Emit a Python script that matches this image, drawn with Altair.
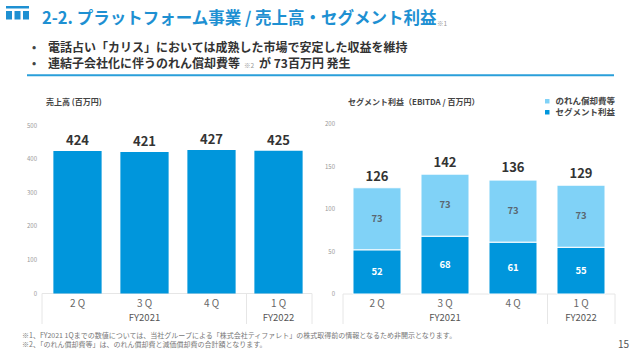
import altair as alt
import pandas as pd

# ---- data ----
quarters = ["2Q", "3Q", "4Q", "1Q"]
quarter_labels = ["2 Q", "3 Q", "4 Q", "1 Q"]
fiscal_years = ["FY2021", "FY2022"]
fiscal_year_anchor = ["3Q", "1Q"]
sales = [424, 421, 427, 425]
segment_profit = [52, 68, 61, 55]
goodwill = [73, 73, 73, 73]
segment_total = [126, 142, 136, 129]
sales_ticks = [0, 100, 200, 300, 400, 500]
profit_ticks = [0, 50, 100, 150, 200]
series_names = ["のれん償却費等", "セグメント利益"]

title_text = "2-2. プラットフォーム事業 / 売上高・セグメント利益"
bullet1 = "電話占い「カリス」においては成熟した市場で安定した収益を維持"
bullet2a = "連結子会社化に伴うのれん償却費等"
bullet2b = "が 73百万円 発生"
left_title = "売上高 (百万円)"
right_title = "セグメント利益（EBITDA / 百万円）"
footnote1 = "※1、FY2021 1Qまでの数値については、当社グループによる「株式会社ティファレト」の株式取得前の情報となるため非開示となります。"
footnote2 = "※2、「のれん償却費等」は、のれん償却費と減価償却費の合計額となります。"
page_no = "15"

FONT = "Noto Sans CJK JP"
BLUE = "#0096DC"
LIGHT = "#80D2F7"
TITLE_BLUE = "#1E90D2"
GRID = "#E6E6E6"

# ---- tables ----
sales_df = pd.DataFrame({"q": quarters, "v": sales})
qlab_df = pd.DataFrame({"q": quarters, "lab": quarter_labels})
fy_df = pd.DataFrame({"q": fiscal_year_anchor, "lab": fiscal_years})
rows = []
for q, d, g in zip(quarters, segment_profit, goodwill):
    rows.append({"q": q, "s": series_names[1], "lo": 0, "hi": d, "mid": d / 2, "v": d})
    rows.append({"q": q, "s": series_names[0], "lo": d, "hi": d + g, "mid": d + g / 2, "v": g})
stack_df = pd.DataFrame(rows)
total_df = pd.DataFrame({"q": quarters, "v": segment_total})
st_df = pd.DataFrame({"t": sales_ticks})
pt_df = pd.DataFrame({"t": profit_ticks})


def xL():
    return alt.Scale(domain=quarters, range=[44, 312], paddingInner=0.28, paddingOuter=0.14)


def yL():
    return alt.Scale(domain=[0, 500], range=[293.5, 125.5], nice=False)


def xR():
    return alt.Scale(domain=quarters, range=[343, 615], paddingInner=0.294, paddingOuter=0.147)


def yR():
    return alt.Scale(domain=[0, 200], range=[294, 124], nice=False)


def one(text):
    return alt.Chart(pd.DataFrame({"t": [text]}))


def label(text, x, y, size, color="#444", weight="bold", align="left"):
    return one(text).mark_text(
        font=FONT, fontSize=size, fontWeight=weight, color=color, align=align, baseline="middle"
    ).encode(x=alt.value(x), y=alt.value(y), text="t:N")


def rect(x, x2, y, y2, color):
    return one("r").mark_rect(color=color).encode(
        x=alt.value(x), x2=alt.value(x2), y=alt.value(y), y2=alt.value(y2)
    )


def rule(x, x2, y, y2, color=GRID, w=1):
    return one("r").mark_rule(color=color, strokeWidth=w).encode(
        x=alt.value(x), x2=alt.value(x2), y=alt.value(y), y2=alt.value(y2)
    )


layers = []

# ---- header ----
layers += [
    rect(6, 29, 6, 8.5, TITLE_BLUE),
    rect(6, 12, 11, 19.5, TITLE_BLUE),
    rect(14.5, 20.5, 11, 19.5, TITLE_BLUE),
    rect(23, 29, 11, 19.5, TITLE_BLUE),
    label(title_text, 42, 18.5, 16.5, TITLE_BLUE),
    label("※1", 437, 24, 6.5, "#999", "normal"),
    label("•", 32, 47.5, 11, "#444"),
    label(bullet1, 48, 47.5, 12, "#333"),
    label("•", 32, 64, 11, "#444"),
    label(bullet2a, 48, 64, 12, "#333"),
    label("※2", 244, 66, 6.5, "#999", "normal"),
    label(bullet2b, 259, 64, 12, "#333"),
    rule(27, 614, 75.3, 75.3, "#2A9FDA", 2),
]

# ---- left panel ----
layers += [
    rule(42, 312, 293.5, 293.5),
    rule(42, 42, 293.5, 324),
    rule(246.5, 246.5, 293.5, 324),
    rule(312, 312, 293.5, 324),
    label(left_title, 46, 103, 8, "#444"),
    alt.Chart(sales_df).mark_bar(color=BLUE).encode(
        x=alt.X("q:N", scale=xL(), axis=None),
        y=alt.Y("v:Q", scale=yL(), axis=None),
    ),
    alt.Chart(sales_df).mark_text(
        font=FONT, fontSize=13, fontWeight="bold", color="#333", baseline="alphabetic", dy=-6
    ).encode(
        x=alt.X("q:N", scale=xL(), axis=None),
        y=alt.Y("v:Q", scale=yL(), axis=None),
        text="v:Q",
    ),
    alt.Chart(st_df).mark_text(font=FONT, fontSize=6, color="#999", align="right", baseline="middle").encode(
        x=alt.value(37), y=alt.Y("t:Q", scale=yL(), axis=None), text="t:Q"
    ),
    alt.Chart(qlab_df).mark_text(font=FONT, fontSize=10, color="#666", baseline="middle").encode(
        x=alt.X("q:N", scale=xL(), axis=None), y=alt.value(303.5), text="lab:N"
    ),
    alt.Chart(fy_df).mark_text(font=FONT, fontSize=9.5, color="#555", baseline="middle").encode(
        x=alt.X("q:N", scale=xL(), axis=None), y=alt.value(317.5), text="lab:N"
    ),
]

# ---- right panel ----
layers += [
    rule(343, 615, 294, 294),
    rule(343, 343, 294, 324),
    rule(547.5, 547.5, 294, 324),
    rule(615, 615, 294, 324),
    label(right_title, 348, 103, 8, "#444"),
    alt.Chart(stack_df).mark_bar(stroke="white", strokeWidth=1).encode(
        x=alt.X("q:N", scale=xR(), axis=None),
        y=alt.Y("lo:Q", scale=yR(), axis=None),
        y2="hi:Q",
        color=alt.Color(
            "s:N",
            scale=alt.Scale(domain=series_names, range=[LIGHT, BLUE]),
            legend=alt.Legend(
                orient="none", legendX=543, legendY=97, title=None, symbolType="square",
                symbolSize=20, symbolStrokeWidth=0, labelFont=FONT, labelFontSize=8.5,
                labelFontWeight="bold", labelColor="#444", rowPadding=2, padding=0,
                labelOffset=4,
            ),
        ),
    ),
    alt.Chart(stack_df).mark_text(font=FONT, fontSize=9.5, fontWeight="bold", baseline="middle").encode(
        x=alt.X("q:N", scale=xR(), axis=None),
        y=alt.Y("mid:Q", scale=yR(), axis=None),
        text="v:Q",
        color=alt.Color("s:N", scale=alt.Scale(domain=series_names, range=["#5A6670", "#FFFFFF"]), legend=None),
    ),
    alt.Chart(total_df).mark_text(
        font=FONT, fontSize=13, fontWeight="bold", color="#333", baseline="alphabetic", dy=-6
    ).encode(
        x=alt.X("q:N", scale=xR(), axis=None),
        y=alt.Y("v:Q", scale=yR(), axis=None),
        text="v:Q",
    ),
    alt.Chart(pt_df).mark_text(font=FONT, fontSize=6, color="#999", align="right", baseline="middle").encode(
        x=alt.value(335), y=alt.Y("t:Q", scale=yR(), axis=None), text="t:Q"
    ),
    alt.Chart(qlab_df).mark_text(font=FONT, fontSize=10, color="#666", baseline="middle").encode(
        x=alt.X("q:N", scale=xR(), axis=None), y=alt.value(304), text="lab:N"
    ),
    alt.Chart(fy_df).mark_text(font=FONT, fontSize=9.5, color="#555", baseline="middle").encode(
        x=alt.X("q:N", scale=xR(), axis=None), y=alt.value(317.5), text="lab:N"
    ),
]

# ---- footer ----
layers += [
    label(footnote1, 22, 336, 7, "#777", "normal"),
    label(footnote2, 22, 345, 7, "#777", "normal"),
    label(page_no, 629, 345, 10, "#555", "normal", "right"),
]

chart = (
    alt.layer(*layers)
    .resolve_scale(x="independent", y="independent", color="independent")
    .properties(width=640, height=357, autosize="none", padding=0, background="white")
    .configure_view(stroke=None)
)

chart.save("out.html", embed_options={"renderer": "svg", "actions": False})
